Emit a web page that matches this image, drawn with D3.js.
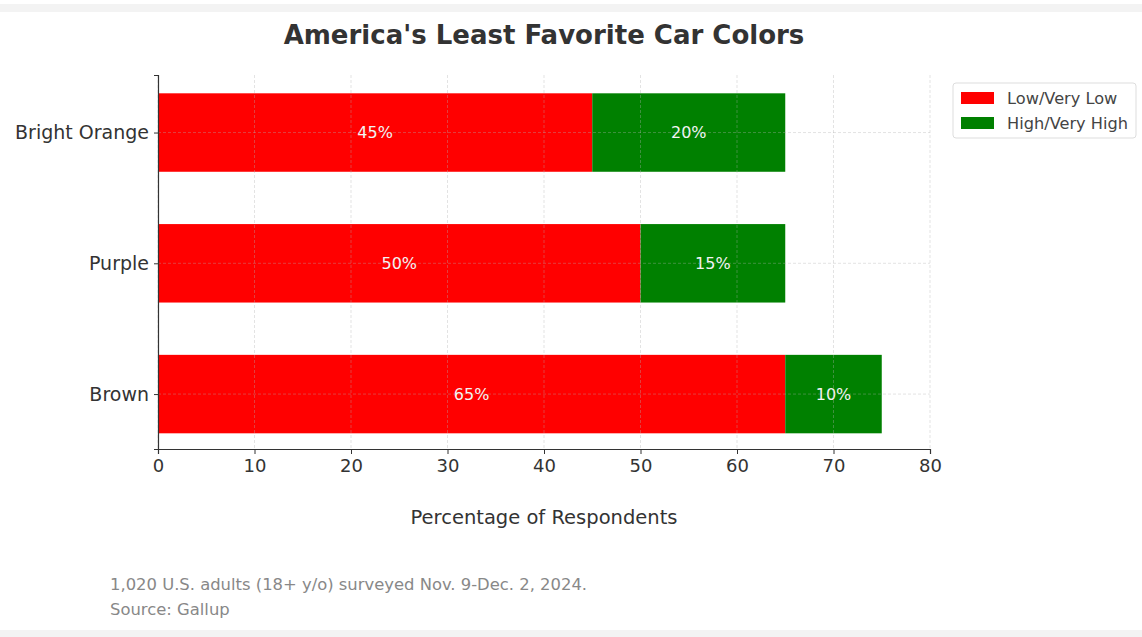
<!DOCTYPE html>
<html><head><meta charset="utf-8">
<script src="https://cdn.jsdelivr.net/npm/d3@7"></script>
<style>body{margin:0;background:#fff;} svg{display:block;font-family:"DejaVu Sans",sans-serif;}</style>
</head><body>
<svg id="c" width="1142" height="637"></svg>
<script>
const categories = ["Brown", "Purple", "Bright Orange"];
const lowValues = [65, 50, 45];
const highValues = [10, 15, 20];
const seriesNames = ["Low/Very Low", "High/Very High"];
const seriesColors = ["#ff0000", "#008000"];
const xTicks = [0, 10, 20, 30, 40, 50, 60, 70, 80];

const svg = d3.select("#c");
svg.append("rect").attr("x",0).attr("y",0).attr("width",1142).attr("height",637).attr("fill","#fff");
svg.append("rect").attr("x",0).attr("y",4).attr("width",1142).attr("height",8).attr("fill","#f3f3f3");
svg.append("rect").attr("x",0).attr("y",630).attr("width",1142).attr("height",7).attr("fill","#f3f3f3");

const L = 158, R = 930, T = 75, B = 449;
const x = d3.scaleLinear().domain([0, 80]).range([L, R]);
const y = d3.scaleLinear().domain([-0.42, 2.44]).range([B, T]);
const bh = y(0) - y(0.6);

const g = svg.append("g");
categories.forEach((c, i) => {
  g.append("rect").attr("x", x(0)).attr("y", y(i) - bh/2).attr("width", x(lowValues[i]) - x(0)).attr("height", bh).attr("fill", seriesColors[0]);
  g.append("rect").attr("x", x(lowValues[i])).attr("y", y(i) - bh/2).attr("width", x(lowValues[i] + highValues[i]) - x(lowValues[i])).attr("height", bh).attr("fill", seriesColors[1]);
});

// grid
const grid = svg.append("g").attr("stroke", "#b0b0b0").attr("stroke-opacity", 0.45).attr("stroke-dasharray", "3,2").attr("stroke-width", 0.8);
xTicks.forEach(t => grid.append("line").attr("x1", x(t)).attr("x2", x(t)).attr("y1", T).attr("y2", B));
categories.forEach((c, i) => grid.append("line").attr("x1", L).attr("x2", R).attr("y1", y(i)).attr("y2", y(i)));

// labels in bars
categories.forEach((c, i) => {
  g.append("text").attr("x", x(lowValues[i]/2)).attr("y", y(i)).attr("dy", "0.35em").attr("text-anchor","middle").attr("fill","#f4f4f4").attr("font-size",16).text(lowValues[i] + "%");
  g.append("text").attr("x", x(lowValues[i] + highValues[i]/2)).attr("y", y(i)).attr("dy", "0.35em").attr("text-anchor","middle").attr("fill","#f4f4f4").attr("font-size",16).text(highValues[i] + "%");
});

// axes
const xa = svg.append("g").attr("transform", `translate(0,${B})`).call(d3.axisBottom(x).tickValues(xTicks).tickSize(5).tickPadding(5));
xa.select(".domain").attr("stroke","#333").attr("stroke-width",1.2);
xa.selectAll(".tick line").attr("stroke","#333");
xa.selectAll("text").attr("font-size",18).attr("fill","#333").attr("font-family","DejaVu Sans");
const ya = svg.append("g").attr("transform", `translate(${L},0)`).call(d3.axisLeft(y).tickValues([0,1,2]).tickFormat(i => categories[i]).tickSize(4).tickPadding(5));
ya.select(".domain").attr("stroke","#333").attr("stroke-width",1.2);
ya.selectAll(".tick line").attr("stroke","#333");
ya.selectAll("text").attr("font-size",19).attr("fill","#333").attr("font-family","DejaVu Sans");

svg.append("text").attr("x", 544).attr("y", 44).attr("text-anchor","middle").attr("font-size",26).attr("font-weight","bold").attr("fill","#333").text("America's Least Favorite Car Colors");
svg.append("text").attr("x", 544).attr("y", 524).attr("text-anchor","middle").attr("font-size",19.5).attr("fill","#333").text("Percentage of Respondents");
svg.append("text").attr("x", 110).attr("y", 590).attr("font-size",16.4).attr("fill","#888").text("1,020 U.S. adults (18+ y/o) surveyed Nov. 9-Dec. 2, 2024.");
svg.append("text").attr("x", 110).attr("y", 615).attr("font-size",16.4).attr("fill","#888").text("Source: Gallup");

// legend
const lg = svg.append("g");
lg.append("rect").attr("x",953).attr("y",83).attr("width",183).attr("height",55).attr("rx",3).attr("fill","#fff").attr("stroke","#ddd");
seriesNames.forEach((n, i) => {
  lg.append("rect").attr("x",961).attr("y",92 + i*25).attr("width",33).attr("height",12).attr("fill",seriesColors[i]);
  lg.append("text").attr("x",1007).attr("y",98 + i*25).attr("dy","0.35em").attr("font-size",16.2).attr("fill","#444").text(n);
});
</script>
</body></html>
